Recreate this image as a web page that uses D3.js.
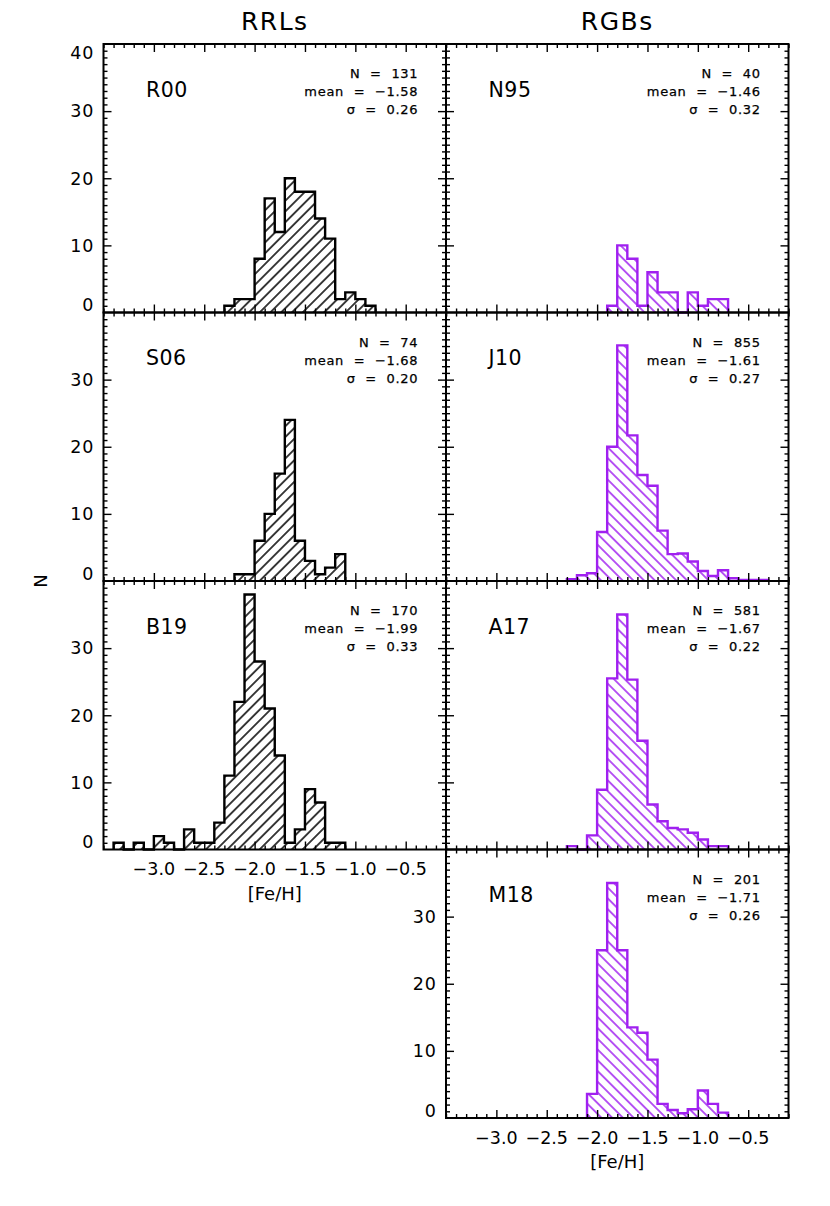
<!DOCTYPE html>
<html>
<head>
<meta charset="utf-8">
<script src="https://cdn.jsdelivr.net/npm/d3@7"></script>
<style>
  html, body { margin: 0; padding: 0; background: #fff; }
  svg { display: block; font-family: "DejaVu Sans", sans-serif; }
  text { white-space: pre; }
</style>
</head>
<body>
<svg id="chart" width="830" height="1206"></svg>
<script>
// ---------------- data ----------------
const panelNames = ["R00", "S06", "B19", "N95", "J10", "A17", "M18"];
const panelGroup = ["RRLs", "RRLs", "RRLs", "RGBs", "RGBs", "RGBs", "RGBs"];
const groupTitles = ["RRLs", "RGBs"];
const statN = [131, 74, 170, 40, 855, 581, 201];
const statMean = [-1.58, -1.68, -1.99, -1.46, -1.61, -1.67, -1.71];
const statSigma = [0.26, 0.20, 0.33, 0.32, 0.27, 0.22, 0.26];
const binWidth = 0.1;
const binStart = [-2.3, -2.2, -3.4, -1.9, -2.3, -2.3, -2.1];
const r00Counts = [1, 2, 2, 8, 17, 12, 20, 18, 18, 14, 11, 2, 3, 2, 1];
const s06Counts = [1, 1, 6, 10, 16, 24, 6, 3, 1, 2, 4];
const b19Counts = [1, 0, 1, 0, 2, 1, 0, 3, 1, 1, 4, 11, 22, 38, 28, 21, 14, 1, 3, 9, 7, 1, 1];
const n95Counts = [1, 10, 8, 1, 6, 3, 3, 0, 3, 1, 2, 2];
const j10Counts = [0.25, 0.85, 1.15, 7.3, 20, 35.1, 21.7, 15.8, 14.2, 7.5, 4.0, 4.1, 2.9, 1.5, 0.75, 1.6, 0.4, 0.15, 0.15, 0.15];
const a17Counts = [0.5, 0, 2.1, 8.9, 25.5, 35, 25.3, 16.2, 6.7, 4.2, 3.2, 3.0, 2.5, 1.5, 0.5, 0.5];
const m18Counts = [3.6, 25, 35, 25, 13.5, 12.7, 8.7, 2.1, 1.2, 0.7, 1.3, 4.1, 2.1, 0.8];
const panelCounts = [r00Counts, s06Counts, b19Counts, n95Counts, j10Counts, a17Counts, m18Counts];
const xTickValues = [-3.0, -2.5, -2.0, -1.5, -1.0, -0.5];
const yTickValues = [0, 10, 20, 30, 40];
const xLabel = "[Fe/H]";
const yLabel = "N";

// ---------------- layout ----------------
const W = 342.5, H = 268.5;
const colX = [103.5, 446];
const rowY = [44, 312.5, 581, 849.5];
const panelCol = [0, 0, 0, 1, 1, 1, 1];
const panelRow = [0, 1, 2, 0, 1, 2, 3];
const groupColor = { RRLs: "#000000", RGBs: "#a020f0" };

const x = d3.scaleLinear().domain([-3.5, -0.1]).range([0, W]);
const y = d3.scaleLinear().domain([0, 40]).range([H, 0]);
const fmt1 = d3.format(".1f"), fmt2 = d3.format(".2f");

const svg = d3.select("#chart");
svg.append("rect").attr("width", 830).attr("height", 1206).attr("fill", "#fff");

const defs = svg.append("defs");
function hatch(id, color, angle) {
  const s = 7.6;
  const p = defs.append("pattern").attr("id", id)
    .attr("patternUnits", "userSpaceOnUse")
    .attr("width", s).attr("height", s)
    .attr("patternTransform", `rotate(${angle})`);
  p.append("line").attr("x1", s / 2).attr("x2", s / 2).attr("y1", -1).attr("y2", s + 1)
    .attr("stroke", color).attr("stroke-width", 1.5);
}
hatch("hatch-RRLs", groupColor.RRLs, 45);
hatch("hatch-RGBs", groupColor.RGBs, -45);

const minorX = d3.range(-35, 0).map(i => i / 10).filter(v => !xTickValues.some(t => Math.abs(t - v) < 1e-6));
const minorY = d3.range(0, 41).filter(v => v % 10 !== 0);

const lastRow = [2, 3];

panelNames.forEach((name, i) => {
  const col = panelCol[i], row = panelRow[i];
  const grp = panelGroup[i];
  const color = groupColor[grp];
  const g = svg.append("g").attr("transform", `translate(${colX[col]},${rowY[row]})`);

  // histogram step outline
  const counts = panelCounts[i];
  const pts = [[binStart[i], 0]];
  counts.forEach((c, k) => {
    const x0 = binStart[i] + k * binWidth;
    pts.push([x0, c], [x0 + binWidth, c]);
  });
  pts.push([binStart[i] + counts.length * binWidth, 0]);
  const line = d3.line().x(d => x(d[0])).y(d => y(d[1]));
  g.append("path").attr("d", line(pts) + "Z")
    .attr("fill", `url(#hatch-${grp})`).attr("stroke", "none");
  g.append("path").attr("d", line(pts))
    .attr("fill", "none").attr("stroke", color)
    .attr("stroke-width", 2.4).attr("stroke-linejoin", "miter");

  // axes ticks (inward)
  const addAxis = (axis, tr) => {
    const a = g.append("g").attr("transform", tr).call(axis);
    a.select(".domain").remove();
    a.selectAll("line").attr("stroke", "#000").attr("stroke-width", 1.4);
    a.selectAll("text").remove();
  };
  addAxis(d3.axisBottom(x).tickValues(xTickValues).tickSize(-8), `translate(0,${H})`);
  addAxis(d3.axisBottom(x).tickValues(minorX).tickSize(-4), `translate(0,${H})`);
  addAxis(d3.axisTop(x).tickValues(xTickValues).tickSize(-8), `translate(0,0)`);
  addAxis(d3.axisTop(x).tickValues(minorX).tickSize(-4), `translate(0,0)`);
  addAxis(d3.axisLeft(y).tickValues([10, 20, 30]).tickSize(-8), `translate(0,0)`);
  addAxis(d3.axisLeft(y).tickValues(minorY).tickSize(-4), `translate(0,0)`);
  addAxis(d3.axisRight(y).tickValues([10, 20, 30]).tickSize(-8), `translate(${W},0)`);
  addAxis(d3.axisRight(y).tickValues(minorY).tickSize(-4), `translate(${W},0)`);

  g.append("rect").attr("width", W).attr("height", H)
    .attr("fill", "none").attr("stroke", "#000").attr("stroke-width", 2);

  // y tick labels: left column, or bottom right panel
  if (col === 0 || row === 3) {
    const vals = row === 0 ? yTickValues : yTickValues.filter(v => v < 40);
    g.selectAll(".ylab").data(vals).enter().append("text")
      .attr("x", -9)
      .attr("y", v => y(v) + 6.3 + (v === 0 ? -7.5 : (v === 40 ? 9 : 0)))
      .attr("text-anchor", "end").attr("font-size", 17.5).attr("letter-spacing", 1)
      .attr("fill", "#000").text(v => v);
  }
  // x tick labels at bottom of each column
  if (row === lastRow[col]) {
    g.selectAll(".xlab").data(xTickValues).enter().append("text")
      .attr("x", v => x(v)).attr("y", H + 25.5)
      .attr("text-anchor", "middle").attr("font-size", 17.5)
      .attr("fill", "#000").text(v => fmt1(v));
    g.append("text").attr("x", W / 2).attr("y", H + 50)
      .attr("text-anchor", "middle").attr("font-size", 18)
      .attr("fill", "#000").text(xLabel);
  }

  // panel name
  g.append("text").attr("x", 42.5).attr("y", 52.7)
    .attr("font-size", 20.5).attr("letter-spacing", 0.5).attr("fill", "#000").text(name);
  // stats
  const stats = [`N  =  ${statN[i]}`, `mean  =  ${fmt2(statMean[i])}`, `σ  =  ${fmt2(statSigma[i])}`];
  g.selectAll(".stat").data(stats).enter().append("text")
    .attr("x", W - 27.7).attr("y", (d, k) => 34.3 + k * 17.9)
    .attr("text-anchor", "end").attr("font-size", 13).attr("letter-spacing", 0.7)
    .attr("stroke", "#000").attr("stroke-width", 0.25)
    .attr("fill", "#000").text(d => d);
});

// column titles
groupTitles.forEach((t, c) => {
  svg.append("text").attr("x", colX[c] + W / 2).attr("y", 30)
    .attr("text-anchor", "middle").attr("font-size", 25).attr("letter-spacing", 1.5)
    .attr("fill", "#000").text(t);
});
// y label
svg.append("text").attr("transform", `translate(46.5,${(rowY[0] + rowY[3] + H) / 2}) rotate(-90)`)
  .attr("text-anchor", "middle").attr("font-size", 18).attr("fill", "#000").text(yLabel);
</script>
</body>
</html>
